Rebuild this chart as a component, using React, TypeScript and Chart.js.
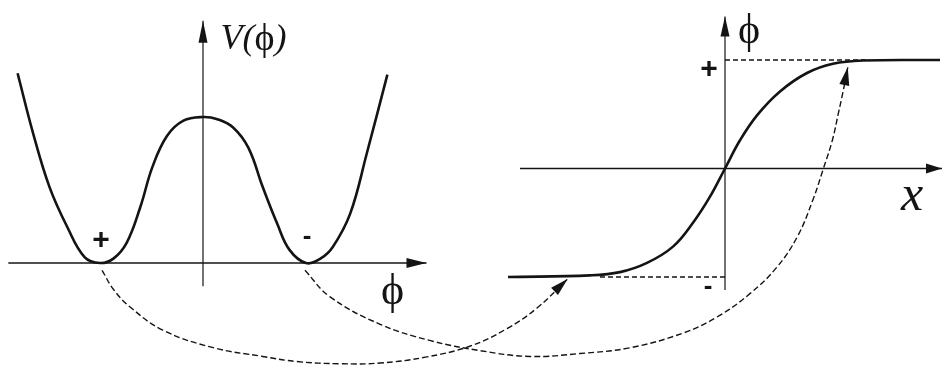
import { useEffect, useRef } from "react";
import { Chart, registerables } from "chart.js";

Chart.register(...registerables);

// Double-well potential V(ϕ), sampled along ϕ (vacua at ϕ = ±1, V(0) = 1)
const potentialPhi = [-1.8, -1.65, -1.49, -1.32, -1.15, -1.0, -0.87, -0.74, -0.61, -0.49, -0.35, -0.19, 0, 0.14, 0.29, 0.44, 0.58, 0.72, 0.84, 1.0, 1.14, 1.26, 1.43, 1.59, 1.79];
const potentialV = [1.3, 0.89, 0.52, 0.25, 0.04, 0.0, 0.03, 0.14, 0.38, 0.66, 0.87, 0.975, 1.0, 0.985, 0.93, 0.79, 0.52, 0.27, 0.09, 0.0, 0.03, 0.11, 0.34, 0.75, 1.29];

// Kink profile ϕ(x) interpolating between the two vacua
const kinkX = [-4.34, -2.7, -2.1, -1.56, -1.04, -0.64, -0.3, 0, 0.3, 0.64, 1.1, 1.64, 2.16, 2.76, 4.3];
const kinkPhi = [-1.0, -0.985, -0.955, -0.87, -0.72, -0.5, -0.26, 0, 0.26, 0.49, 0.71, 0.88, 0.965, 0.995, 1.0];

// Asymptotic vacuum levels of the kink (dashed guides)
const upperGuideX = [0, 2.9];
const upperGuidePhi = [1, 1];
const lowerGuideX = [-2.5, 0];
const lowerGuidePhi = [-1, -1];

// Connectors from the potential minima to the kink tails, in (ϕ, V) units
const plusLinkPhi = [-0.98, -0.87, -0.71, -0.39, 0.1, 0.58, 0.91, 1.33, 1.72, 2.16, 2.59, 2.95, 3.24, 3.54];
const plusLinkV = [-0.05, -0.18, -0.3, -0.46, -0.58, -0.64, -0.675, -0.69, -0.685, -0.645, -0.57, -0.45, -0.31, -0.11];
const minusLinkPhi = [0.99, 1.23, 1.72, 2.2, 2.69, 3.17, 3.66, 4.15, 4.66, 4.99, 5.31, 5.57, 5.77, 5.92, 6.02, 6.11, 6.17, 6.21, 6.26];
const minusLinkV = [-0.05, -0.23, -0.42, -0.53, -0.6, -0.64, -0.62, -0.58, -0.48, -0.37, -0.21, -0.03, 0.18, 0.43, 0.64, 0.84, 1.03, 1.16, 1.34];

// Coordinate axes of both panels
const potentialAxisPhi = [-1.89, 2.17];
const potentialAxisV = [-0.16, 1.66];
const kinkAxisX = [-4.1, 4.34];
const kinkAxisPhi = [-1.12, 1.4];

const zip = (xs: number[], ys: number[]) => xs.map((x, i) => ({ x, y: ys[i] }));

const INK = "#141414";
const SERIF = "'Liberation Serif', 'Times New Roman', serif";
const PLUS = "bold 30px 'Liberation Sans', sans-serif";
const MINUS = "bold 26px 'Liberation Sans', sans-serif";

type Label = {
  parts: { text: string; font: string }[];
  x: number;
  y: number;
  xAxis: string;
  yAxis: string;
  align: "left" | "center";
};

const labels: Label[] = [
  {
    parts: [
      { text: "V(", font: `italic 36px ${SERIF}` },
      { text: "ϕ", font: `38px ${SERIF}` },
      { text: ")", font: `italic 36px ${SERIF}` },
    ],
    x: 0.17, y: 1.53, xAxis: "xL", yAxis: "yL", align: "left",
  },
  { parts: [{ text: "ϕ", font: `44px ${SERIF}` }], x: 1.84, y: -0.2, xAxis: "xL", yAxis: "yL", align: "center" },
  { parts: [{ text: "+", font: PLUS }], x: -0.99, y: 0.15, xAxis: "xL", yAxis: "yL", align: "center" },
  { parts: [{ text: "-", font: MINUS }], x: 1.01, y: 0.18, xAxis: "xL", yAxis: "yL", align: "center" },
  { parts: [{ text: "ϕ", font: `42px ${SERIF}` }], x: 0.48, y: 1.26, xAxis: "xR", yAxis: "yR", align: "center" },
  { parts: [{ text: "x", font: `italic 50px ${SERIF}` }], x: 3.74, y: -0.26, xAxis: "xR", yAxis: "yR", align: "center" },
  { parts: [{ text: "+", font: PLUS }], x: -0.32, y: 0.91, xAxis: "xR", yAxis: "yR", align: "center" },
  { parts: [{ text: "-", font: MINUS }], x: -0.34, y: -1.09, xAxis: "xR", yAxis: "yR", align: "center" },
];

// Filled arrowheads at the end of datasets flagged with `arrow`
const arrowheadPlugin = {
  id: "arrowheads",
  afterDatasetsDraw(chart: any) {
    const ctx = chart.ctx as CanvasRenderingContext2D;
    chart.data.datasets.forEach((ds: any, i: number) => {
      if (!ds.arrow) return;
      const pts = chart.getDatasetMeta(i).data;
      const tip = pts[pts.length - 1];
      const prev = pts[pts.length - 2];
      const ang = Math.atan2(tip.y - prev.y, tip.x - prev.x);
      const len = ds.arrow.len;
      const half = ds.arrow.half;
      ctx.save();
      ctx.translate(tip.x, tip.y);
      ctx.rotate(ang);
      ctx.beginPath();
      ctx.moveTo(0, 0);
      ctx.lineTo(-len, -half);
      ctx.lineTo(-len, half);
      ctx.closePath();
      ctx.fillStyle = INK;
      ctx.fill();
      ctx.restore();
    });
  },
};

const labelPlugin = {
  id: "diagramLabels",
  afterDraw(chart: any) {
    const ctx = chart.ctx as CanvasRenderingContext2D;
    ctx.save();
    ctx.fillStyle = INK;
    ctx.textBaseline = "middle";
    ctx.textAlign = "left";
    for (const l of labels) {
      const px = chart.scales[l.xAxis].getPixelForValue(l.x);
      const py = chart.scales[l.yAxis].getPixelForValue(l.y);
      let total = 0;
      for (const p of l.parts) {
        ctx.font = p.font;
        total += ctx.measureText(p.text).width;
      }
      let cx = l.align === "center" ? px - total / 2 : px;
      for (const p of l.parts) {
        ctx.font = p.font;
        ctx.fillText(p.text, cx, py);
        cx += ctx.measureText(p.text).width;
      }
    }
    ctx.restore();
  },
};

const hidden = (min: number, max: number) => ({
  type: "linear" as const,
  display: false,
  min,
  max,
});

export default function App() {
  const canvasRef = useRef<HTMLCanvasElement | null>(null);

  useEffect(() => {
    document.body.style.margin = "0";
    const canvas = canvasRef.current;
    if (!canvas) return;
    let chart: Chart | null = null;
    let cancelled = false;

    const solid = (data: any, xAxisID: string, yAxisID: string, width: number, extra: any = {}) => ({
      data,
      xAxisID,
      yAxisID,
      showLine: true,
      borderColor: INK,
      borderWidth: width,
      pointRadius: 0,
      fill: false,
      ...extra,
    });

    const build = () => {
      if (cancelled) return;
      chart = new Chart(canvas, {
        type: "scatter",
        data: {
          datasets: [
            // axes
            solid(zip(potentialAxisPhi, [0, 0]), "xL", "yL", 1.4, { arrow: { len: 20, half: 5 } }),
            solid(zip([0, 0], potentialAxisV), "xL", "yL", 1.2, { arrow: { len: 22, half: 4.5 } }),
            solid(zip(kinkAxisX, [0, 0]), "xR", "yR", 1.4, { arrow: { len: 16, half: 5 } }),
            solid(zip([0, 0], kinkAxisPhi), "xR", "yR", 1.2, { arrow: { len: 20, half: 4.5 } }),
            // dashed vacuum guides
            solid(zip(upperGuideX, upperGuidePhi), "xR", "yR", 1.3, { borderDash: [5, 3] }),
            solid(zip(lowerGuideX, lowerGuidePhi), "xR", "yR", 1.3, { borderDash: [5, 3] }),
            // curves
            solid(zip(potentialPhi, potentialV), "xL", "yL", 2.6, { tension: 0.4 }),
            solid(zip(kinkX, kinkPhi), "xR", "yR", 2.6, { tension: 0.4 }),
            // connectors
            solid(zip(plusLinkPhi, plusLinkV), "xL", "yL", 1.4, {
              borderDash: [6, 3],
              tension: 0.4,
              arrow: { len: 18, half: 5 },
            }),
            solid(zip(minusLinkPhi, minusLinkV), "xL", "yL", 1.4, {
              borderDash: [6, 3],
              tension: 0.4,
              arrow: { len: 18, half: 5 },
            }),
          ] as any,
        },
        options: {
          animation: false,
          responsive: false,
          devicePixelRatio: 1,
          layout: { padding: 0 },
          plugins: {
            legend: { display: false },
            tooltip: { enabled: false },
          },
          events: [],
          scales: {
            // left panel: ϕ horizontally, V vertically
            xL: hidden(-203 / 103, 740 / 103),
            yL: hidden(-102 / 146, 263 / 146),
            // right panel: x horizontally, ϕ vertically
            xR: hidden(-14.5, 4.36),
            yR: hidden(-196.5 / 108.5, 168.5 / 108.5),
          },
        } as any,
        plugins: [arrowheadPlugin, labelPlugin],
      });
    };

    const wanted = Array.from(new Set(labels.flatMap((l) => l.parts.map((p) => p.font))));
    Promise.all(wanted.map((f) => document.fonts.load(f, "ϕx+V"))).then(build, build);

    return () => {
      cancelled = true;
      if (chart) chart.destroy();
    };
  }, []);

  return (
    <div style={{ width: 943, height: 365, background: "#fff" }}>
      <canvas ref={canvasRef} width={943} height={365} style={{ display: "block" }} />
    </div>
  );
}
